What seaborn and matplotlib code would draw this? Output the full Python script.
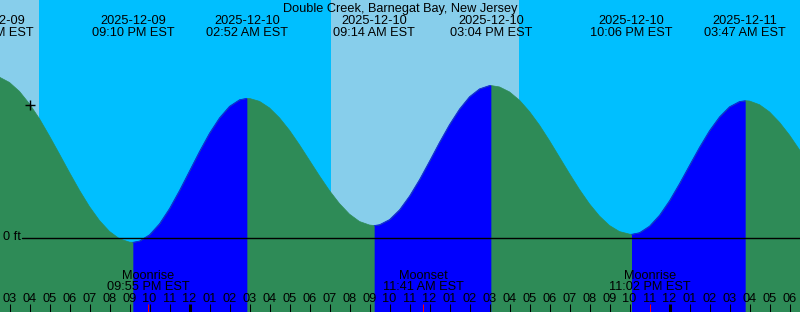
import numpy as np
import pandas as pd
import matplotlib
matplotlib.use("Agg")
import matplotlib.pyplot as plt
from matplotlib.transforms import blended_transform_factory
import seaborn as sns

# ---------------- data ----------------
station = "Double Creek, Barnegat Bay, New Jersey"
origin = pd.Timestamp("2025-12-09 15:00")          # first labelled hour tick (03 PM)

# tide height (ft) every 30 minutes from 2025-12-09 14:00
sample_start = "2025-12-09 14:00"
sample_heights_ft = [
    1.010, 1.002, 0.969, 0.913, 0.835, 0.742, 0.634, 0.521, 0.406, 0.295,
    0.193, 0.106, 0.038, -0.008, -0.029, -0.022, 0.017, 0.086, 0.181, 0.294,
    0.416, 0.538, 0.652, 0.748, 0.820, 0.861, 0.869, 0.851, 0.810, 0.748,
    0.670, 0.579, 0.482, 0.385, 0.293, 0.212, 0.146, 0.100, 0.078, 0.080,
    0.112, 0.173, 0.259, 0.362, 0.477, 0.595, 0.706, 0.803, 0.880, 0.929,
    0.950, 0.941, 0.910, 0.858, 0.787, 0.702, 0.605, 0.502, 0.399, 0.300,
    0.210, 0.134, 0.075, 0.037, 0.021, 0.030, 0.071, 0.139, 0.230, 0.337,
    0.451, 0.564, 0.668, 0.754, 0.817, 0.850, 0.853, 0.830, 0.785, 0.720,
    0.640, 0.548, 0.451,
]

# high / low tides
tide_times = ["2025-12-09 14:07", "2025-12-09 21:10", "2025-12-10 02:52",
              "2025-12-10 09:14", "2025-12-10 15:04", "2025-12-10 22:06",
              "2025-12-11 03:47"]
tide_heights_ft = [1.010, -0.030, 0.870, 0.075, 0.950, 0.020, 0.855]
tide_kinds = ["High", "Low", "High", "Low", "High", "Low", "High"]

# sun and moon events
sun_times = ["2025-12-09 16:29", "2025-12-10 07:05", "2025-12-10 16:29"]
sun_kinds = ["Sunset", "Sunrise", "Sunset"]
moon_times = ["2025-12-09 21:55", "2025-12-10 11:41", "2025-12-10 23:02"]
moon_kinds = ["Moonrise", "Moonset", "Moonrise"]
now_time = "2025-12-09 16:02"

hour_labels = ["03", "04", "05", "06", "07", "08", "09", "10", "11", "12",
               "01", "02", "03", "04", "05", "06", "07", "08", "09", "10", "11", "12",
               "01", "02", "03", "04", "05", "06", "07", "08", "09", "10", "11", "12",
               "01", "02", "03", "04", "05", "06"]
midnight_labels_idx = [9, 33]

# ---------------- styling ----------------
DAY = "#87CEEB"
NIGHT = "#00BFFF"
FALL = "#2E8B57"
RISE = "#0000FF"
FONT = "Liberation Sans"
FS = 9.2

W, H = 800, 312
X0_PX, PX_PER_H = 9.5, 20.0
ZERO_PX, PX_PER_FT = 237.5, 160.0


def hours(ts):
    return (pd.to_datetime(ts) - origin) / pd.Timedelta(hours=1)


def frac(py):
    return 1 - py / H


sns.set_style("white")
plt.rcParams["font.family"] = [FONT, "DejaVu Sans"]

fig = plt.figure(figsize=(W / 100, H / 100), dpi=100)
ax = fig.add_axes([0, 0, 1, 1])
xmin, xmax = -X0_PX / PX_PER_H, (W - X0_PX) / PX_PER_H
ymin, ymax = -(H - ZERO_PX) / PX_PER_FT, ZERO_PX / PX_PER_FT
ax.set_xlim(xmin, xmax)
ax.set_ylim(ymin, ymax)
ax.axis("off")
blend = blended_transform_factory(ax.transData, ax.transAxes)

# sky: night then daylight spans
ax.axvspan(xmin, xmax, color=NIGHT, lw=0, zorder=0)
sun_h = [hours(t) for t in sun_times]
day_edges = [xmin] + sun_h if sun_kinds[0] == "Sunset" else sun_h
for a, b in zip(day_edges[0::2], day_edges[1::2]):
    ax.axvspan(a, b, color=DAY, lw=0, zorder=0)

# tide curve series (samples + extremes)
samp_t = (pd.date_range(sample_start, periods=len(sample_heights_ft), freq="30min") - origin) / pd.Timedelta(hours=1)
ext_t = np.array([hours(t) for t in tide_times])
t_all = np.concatenate([np.asarray(samp_t, float), ext_t])
h_all = np.concatenate([np.asarray(sample_heights_ft, float), np.asarray(tide_heights_ft, float)])
order = np.argsort(t_all)
t_all, h_all = t_all[order], h_all[order]

ax.fill_between(t_all, h_all, ymin, color=FALL, lw=0, zorder=1)
rows = []
seg = 0
for i in range(len(ext_t) - 1):
    a, b = ext_t[i], ext_t[i + 1]
    m = (t_all >= a - 1e-9) & (t_all <= b + 1e-9)
    phase = "rise" if tide_kinds[i] == "Low" else "fall"
    if phase == "rise":
        ax.fill_between(t_all[m], h_all[m], ymin, color=RISE, lw=0, zorder=1)
    for tt, hh in zip(t_all[m], h_all[m]):
        rows.append({"t": tt, "h": hh, "phase": phase, "seg": seg})
    seg += 1
# ends outside the extremes
for m, phase in [((t_all <= ext_t[0]), "rise"), ((t_all >= ext_t[-1]), "fall")]:
    for tt, hh in zip(t_all[m], h_all[m]):
        rows.append({"t": tt, "h": hh, "phase": phase, "seg": seg})
    seg += 1
df = pd.DataFrame(rows)
sns.lineplot(data=df, x="t", y="h", hue="phase", units="seg", estimator=None,
             palette={"rise": RISE, "fall": FALL}, legend=False, linewidth=0.5,
             ax=ax, zorder=1.5)

# 0 ft datum line
ax.axhline(0, xmin=22 / W, xmax=1, color="black", lw=1.0, zorder=2)
ax.text(3 / PX_PER_H + xmin, 0, "0 ft", ha="left", va="center", fontsize=FS,
        color="black", zorder=3)

# "now" marker
now_h = hours(now_time)
ax.plot([now_h], [np.interp(now_h, t_all, h_all)], marker="+", ms=7, mew=1.0,
        color="black", zorder=3)

# title and tide event labels
ax.text(0.5, frac(12), station, transform=ax.transAxes, ha="center",
        va="baseline", fontsize=FS, color="black")
for ts in tide_times:
    d = pd.to_datetime(ts)
    x = hours(ts)
    ax.text(x, frac(24.3), d.strftime("%Y-%m-%d"), transform=blend, ha="center",
            va="baseline", fontsize=FS, color="black")
    ax.text(x, frac(36.3), d.strftime("%I:%M %p EST"), transform=blend, ha="center",
            va="baseline", fontsize=FS, color="black")

# moon event labels
for ts, kind in zip(moon_times, moon_kinds):
    d = pd.to_datetime(ts)
    x = hours(ts)
    ax.text(x, frac(278.6), kind, transform=blend, ha="center", va="baseline",
            fontsize=FS, color="black", zorder=3)
    ax.text(x, frac(289.6), d.strftime("%I:%M %p EST"), transform=blend,
            ha="center", va="baseline", fontsize=FS, color="black", zorder=3)

# hour ticks and labels
tick_h = np.arange(len(hour_labels))
for k, lab in enumerate(hour_labels):
    ax.text(tick_h[k], frac(302.3), lab, transform=blend, ha="center",
            va="baseline", fontsize=FS, color="black", zorder=3)
normal = [k for k in tick_h if k not in midnight_labels_idx]
ax.vlines(tick_h[normal], 0, 8 / H, transform=blend, color="black", lw=0.75, zorder=3)
ax.vlines(tick_h[midnight_labels_idx], 0, 8 / H, transform=blend, color="black",
          lw=2.2, zorder=3)
ax.vlines([hours(t) for t in moon_times], 0, 8 / H, transform=blend, color="red",
          lw=0.75, zorder=3.5)

fig.savefig("out.png", dpi=100)
